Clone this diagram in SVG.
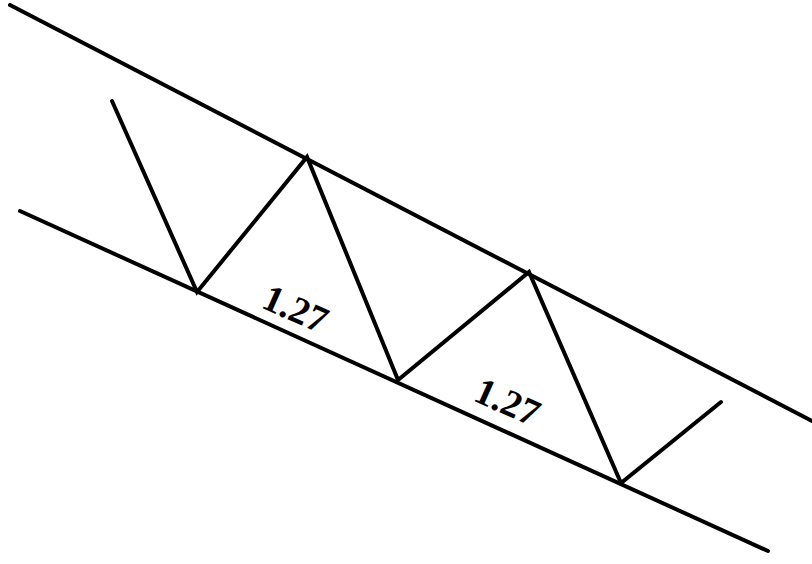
<svg xmlns="http://www.w3.org/2000/svg" width="812" height="564" viewBox="0 0 812 564">
<style>
.ln{stroke:#000;stroke-width:4;fill:none;stroke-linecap:round;stroke-linejoin:miter}
.lbl{font-family:"Liberation Serif",serif;font-weight:bold;font-size:38px;fill:#000}
</style>
<rect width="812" height="564" fill="#fff"/>
<g id="connectors">
<line class="ln" x1="10" y1="5" x2="812" y2="421"/>
<line class="ln" x1="20" y1="211" x2="768" y2="551"/>
<polyline class="ln" points="112,101 197,292 307,157 398,380 529,272 621,483 721,402"/>
</g>
<g id="label1"><text class="lbl" transform="translate(260,307) rotate(24)">1.27</text></g>
<g id="label2"><text class="lbl" transform="translate(472,400) rotate(24)">1.27</text></g>
</svg>
